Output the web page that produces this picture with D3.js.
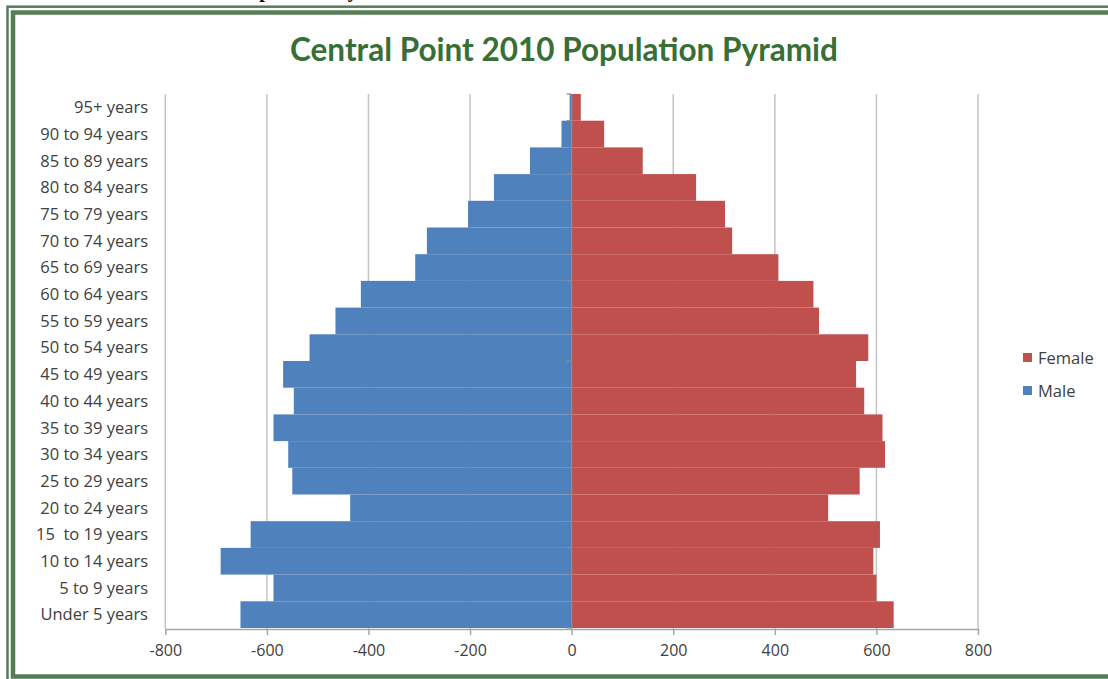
<!DOCTYPE html>
<html><head><meta charset="utf-8">
<script src="https://cdn.jsdelivr.net/npm/d3@7"></script>
<style>body{margin:0;background:#fff}svg{display:block}</style>
</head><body>
<svg id="c" width="1108" height="679"></svg>
<script>
const categories = ["95+ years","90 to 94 years","85 to 89 years","80 to 84 years","75 to 79 years","70 to 74 years","65 to 69 years","60 to 64 years","55 to 59 years","50 to 54 years","45 to 49 years","40 to 44 years","35 to 39 years","30 to 34 years","25 to 29 years","20 to 24 years","15  to 19 years","10 to 14 years","5 to 9 years","Under 5 years"];
const male = [-4,-20,-82,-153,-204,-285,-308,-415,-465,-516,-568,-547,-587,-558,-550,-436,-632,-691,-587,-652];
const female = [18,64,140,245,302,316,407,476,487,584,560,576,612,617,567,505,607,594,600,634];
const xTicks = [-800,-600,-400,-200,0,200,400,600,800];
const seriesNames = ["Female","Male"];
const colors = {Female:"#C0504D", Male:"#4F81BD"};

const svg = d3.select("#c");
const font = "'Open Sans', Lato, sans-serif";

// clipped heading above the frame (only descenders visible in the reference)
svg.append("text").attr("x",116).attr("y",-3).attr("font-family","'Liberation Serif', serif")
  .attr("font-weight","bold").attr("font-size",20).attr("fill","#000").text("Central Point Population Pyramid");

// frame (right side runs past the picture edge)
const g0 = svg.append("g");
g0.append("rect").attr("x",7.5).attr("y",6.7).attr("width",1140).attr("height",700)
  .attr("fill","none").attr("stroke","#557d55").attr("stroke-width",2.5);
g0.append("rect").attr("x",13).attr("y",12.5).attr("width",1120).attr("height",664)
  .attr("fill","#fff").attr("stroke","#557d55").attr("stroke-width",4.5);

const x = d3.scaleLinear().domain([-800,800]).range([165.3,978]);
const y = d3.scaleBand().domain(categories).range([94,628]).padding(0);

// title
svg.append("text").attr("x",564).attr("y",61).attr("text-anchor","middle")
  .attr("font-family","Lato, sans-serif").attr("font-weight","bold").attr("font-size",31.5)
  .attr("fill","#376f37").text("Central Point 2010 Population Pyramid");

// gridlines
svg.append("g").selectAll("line").data(xTicks.filter(d=>d!==0)).join("line")
  .attr("x1",d=>x(d)).attr("x2",d=>x(d)).attr("y1",94).attr("y2",629)
  .attr("stroke","#c4c4c4").attr("stroke-width",1.5);

// bars
const rows = categories.map((c,i)=>({c, m:male[i], f:female[i]}));
svg.append("g").selectAll("rect").data(rows).join("rect")
  .attr("x",d=>x(d.m)).attr("width",d=>x(0)-x(d.m)).attr("y",d=>y(d.c)).attr("height",y.bandwidth())
  .attr("fill",colors.Male);
svg.append("g").selectAll("rect").data(rows).join("rect")
  .attr("x",x(0)).attr("width",d=>x(d.f)-x(0)).attr("y",d=>y(d.c)).attr("height",y.bandwidth())
  .attr("fill",colors.Female);

// x axis
const xa = svg.append("g").attr("transform","translate(0,629)")
  .call(d3.axisBottom(x).tickValues(xTicks).tickFormat(d=>String(d)).tickSize(6).tickSizeOuter(0).tickPadding(10));
xa.select(".domain").attr("stroke","#a6a6a6").attr("stroke-width",1.5);
xa.selectAll(".tick line").attr("stroke","#a6a6a6").attr("stroke-width",1.5);
xa.selectAll("text").attr("font-family",font).attr("font-size",16).attr("fill","#404040");

// y axis (center)
svg.append("line").attr("x1",x(0)).attr("x2",x(0)).attr("y1",94).attr("y2",629)
  .attr("stroke","#8c8c8c").attr("stroke-width",1.2);
svg.append("g").selectAll("line").data(d3.range(categories.length+1)).join("line")
  .attr("x1",x(0)-5).attr("x2",x(0)).attr("y1",i=>94+i*y.step()).attr("y2",i=>94+i*y.step())
  .attr("stroke","#8c8c8c").attr("stroke-width",1.2);

// category labels
svg.append("g").selectAll("text").data(categories).join("text")
  .attr("x",148).attr("y",d=>y(d)+y.bandwidth()/2).attr("dy","0.35em").attr("text-anchor","end")
  .attr("font-family",font).attr("font-size",16.5).attr("fill","#404040")
  .style("white-space","pre").text(d=>d);

// legend
const lg = svg.append("g").selectAll("g").data(seriesNames).join("g")
  .attr("transform",(d,i)=>`translate(1023,${358+i*33})`);
lg.append("rect").attr("x",0).attr("y",-5).attr("width",9).attr("height",9).attr("fill",d=>colors[d]);
lg.append("text").attr("x",15).attr("y",0).attr("dy","0.35em").attr("font-family",font)
  .attr("font-size",16.5).attr("fill","#404040").text(d=>d);
</script>
</body></html>
